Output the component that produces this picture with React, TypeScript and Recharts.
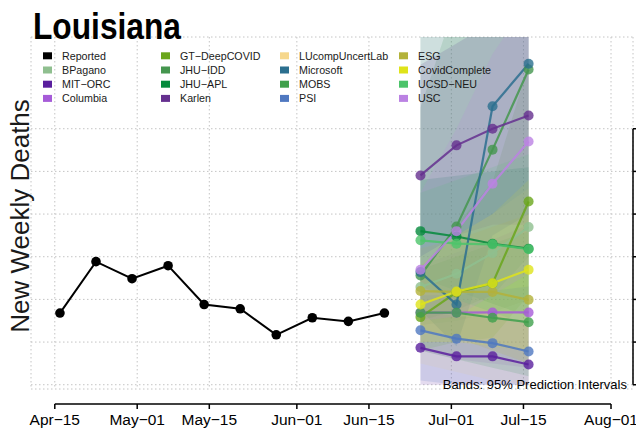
import React from 'react';
import { ComposedChart, Line, Area, XAxis, YAxis, CartesianGrid, ReferenceLine } from 'recharts';

const FONT = '"Liberation Sans", Arial, Helvetica, sans-serif';
const ORIGIN = '2021-04-15';
const dayOf = (s: string) => (Date.parse(s) - Date.parse(ORIGIN)) / 86400000;

// Reported weekly deaths
const reportedDates = ['2021-04-16', '2021-04-23', '2021-04-30', '2021-05-07', '2021-05-14', '2021-05-21', '2021-05-28', '2021-06-04', '2021-06-11', '2021-06-18'];
const reportedDeaths = [53.6, 77.7, 69.7, 75.8, 57.6, 55.6, 43.4, 51.4, 49.7, 53.6];

// Forecast targets
const forecastDates = ['2021-06-25', '2021-07-02', '2021-07-09', '2021-07-16'];

// Model medians
const bpagano = [65.8, 72.0, 81.7, 93.9];
const mitOrc = [37.3, 33.3, 33.3, 29.5];
const columbia = [53.8, 53.8, 53.9, 53.9];
const gtDeepCovid = [51.7, 63.3, 67.5, 105.9];
const jhuIdd = [71.2, 94.2, 130.2, 167.8];
const jhuApl = [92.0, 89.5, 86.1, 83.8];
const karlen = [118.1, 132.2, 140.0, 146.2];
const microsoft = [72.8, 57.6, 150.5, 170.5];
const mobs = [53.8, 53.8, 51.4, 49.3];
const psi = [45.5, 41.6, 39.5, 35.6];
const esg = [63.9, 63.5, 63.5, 59.8];
const covidComplete = [57.6, 63.7, 67.6, 73.9];
const ucsdNeu = [87.7, 86.1, 85.8, 83.5];
const usc = [73.9, 92.0, 114.2, 134.0];

// 95% prediction interval bounds
const bpaganoLo = [48, 50, 54, 60];
const bpaganoHi = [190, 210, 240, 270];
const mitOrcLo = [20, 20, 20, 20];
const mitOrcHi = [55, 52, 52, 50];
const columbiaLo = [36, 32, 30, 28];
const columbiaHi = [76, 82, 88, 95];
const gtDeepCovidLo = [36, 40, 42, 62];
const gtDeepCovidHi = [72, 95, 115, 170];
const jhuIddLo = [50, 55, 62, 80];
const jhuIddHi = [150, 200, 250, 300];
const jhuAplLo = [70, 64, 58, 52];
const jhuAplHi = [116, 118, 120, 122];
const karlenLo = [80, 90, 95, 95];
const karlenHi = [170, 180, 190, 195];
const lucompLo = [30, 26, 22, 20];
const lucompHi = [80, 90, 100, 112];
const microsoftLo = [55, 38, 90, 100];
const microsoftHi = [200, 230, 320, 360];
const mobsLo = [36, 32, 28, 24];
const mobsHi = [74, 80, 86, 92];
const psiLo = [22, 20, 20, 20];
const psiHi = [62, 62, 64, 66];
const esgLo = [46, 42, 36, 30];
const esgHi = [84, 88, 94, 100];
const covidCompleteLo = [40, 40, 38, 36];
const covidCompleteHi = [76, 90, 100, 116];
const ucsdNeuLo = [66, 60, 54, 48];
const ucsdNeuHi = [110, 116, 122, 128];
const uscLo = [50, 52, 62, 72];
const uscHi = [110, 140, 175, 200];

// Axis ticks
const xTickDates = ['2021-04-15', '2021-05-01', '2021-05-15', '2021-06-01', '2021-06-15', '2021-07-01', '2021-07-15', '2021-08-01'];
const xTickLabels = ['Apr\u221215', 'May\u221201', 'May\u221215', 'Jun\u221201', 'Jun\u221215', 'Jul\u221201', 'Jul\u221215', 'Aug\u221201'];
const yTicks = [20, 40, 60, 80, 100, 120, 140];

const X_DOMAIN: [number, number] = [-4.62, 112.27];
const Y_DOMAIN: [number, number] = [18, 183];
const X_AXIS_START = 0;
const X_AXIS_END = 108;
const X_AXIS_Y = 10.97;

type Model = { key: string; name: string; color: string; mid: number[] | null; lo: number[]; hi: number[] };

const models: Model[] = [
  { key: 'bpagano', name: 'BPagano', color: '#8fbf8f', mid: bpagano, lo: bpaganoLo, hi: bpaganoHi },
  { key: 'mitOrc', name: 'MIT\u2212ORC', color: '#5a1f9e', mid: mitOrc, lo: mitOrcLo, hi: mitOrcHi },
  { key: 'columbia', name: 'Columbia', color: '#a65bd8', mid: columbia, lo: columbiaLo, hi: columbiaHi },
  { key: 'gtDeepCovid', name: 'GT\u2212DeepCOVID', color: '#6aa61c', mid: gtDeepCovid, lo: gtDeepCovidLo, hi: gtDeepCovidHi },
  { key: 'jhuIdd', name: 'JHU\u2212IDD', color: '#45964f', mid: jhuIdd, lo: jhuIddLo, hi: jhuIddHi },
  { key: 'jhuApl', name: 'JHU\u2212APL', color: '#058a3c', mid: jhuApl, lo: jhuAplLo, hi: jhuAplHi },
  { key: 'karlen', name: 'Karlen', color: '#65308f', mid: karlen, lo: karlenLo, hi: karlenHi },
  { key: 'lucomp', name: 'LUcompUncertLab', color: '#f6d78c', mid: null, lo: lucompLo, hi: lucompHi },
  { key: 'microsoft', name: 'Microsoft', color: '#2b6f8f', mid: microsoft, lo: microsoftLo, hi: microsoftHi },
  { key: 'mobs', name: 'MOBS', color: '#40a04c', mid: mobs, lo: mobsLo, hi: mobsHi },
  { key: 'psi', name: 'PSI', color: '#4f78c0', mid: psi, lo: psiLo, hi: psiHi },
  { key: 'esg', name: 'ESG', color: '#b3b23a', mid: esg, lo: esgLo, hi: esgHi },
  { key: 'covidComplete', name: 'CovidComplete', color: '#dfe31a', mid: covidComplete, lo: covidCompleteLo, hi: covidCompleteHi },
  { key: 'ucsdNeu', name: 'UCSD\u2212NEU', color: '#4cc46a', mid: ucsdNeu, lo: ucsdNeuLo, hi: ucsdNeuHi },
  { key: 'usc', name: 'USC', color: '#bb82e3', mid: usc, lo: uscLo, hi: uscHi },
];

// Build the rows for the chart
const rows: any[] = [];
reportedDates.forEach((d, i) => rows.push({ t: dayOf(d), reported: reportedDeaths[i] }));
forecastDates.forEach((d, i) => {
  const r: any = { t: dayOf(d) };
  models.forEach((m) => {
    if (m.mid) r[m.key] = m.mid[i];
    r[m.key + '_band'] = [m.lo[i], m.hi[i]];
  });
  rows.push(r);
});

const xTicks = xTickDates.map(dayOf);

const XTick = (props: any) => {
  const { x, y, payload } = props;
  const i = xTicks.indexOf(payload.value);
  return (
    <g>
      <line x1={x} x2={x} y1={y + 15} y2={y + 20} stroke="#000" strokeWidth={1.5} />
      <text x={x} y={y + 35.5} textAnchor="middle" fontSize={15.5} fontFamily={FONT} fill="#000">
        {xTickLabels[i]}
      </text>
    </g>
  );
};

// right-hand axis: labels fall outside the cropped frame, only tick marks remain
const EmptyTick = () => <g />;

const legendColumns = [
  [['Reported', '#000000'], [models[0].name, models[0].color], [models[1].name, models[1].color], [models[2].name, models[2].color]],
  [[models[3].name, models[3].color], [models[4].name, models[4].color], [models[5].name, models[5].color], [models[6].name, models[6].color]],
  [[models[7].name, models[7].color], [models[8].name, models[8].color], [models[9].name, models[9].color], [models[10].name, models[10].color]],
  [[models[11].name, models[11].color], [models[12].name, models[12].color], [models[13].name, models[13].color], [models[14].name, models[14].color]],
];
const legendColX = [43, 161, 280, 399];

export default function App() {
  return (
    <div style={{ position: 'absolute', left: 0, top: 0, width: 636, height: 437, background: '#fff', overflow: 'hidden' }}>
      <ComposedChart width={636} height={437} data={rows} margin={{ top: 37, right: 0, bottom: 18, left: 31 }}>
        <CartesianGrid stroke="#c4c4c4" strokeDasharray="1.5 2.5" strokeWidth={1} />
        <XAxis
          type="number"
          dataKey="t"
          domain={X_DOMAIN}
          allowDataOverflow
          ticks={xTicks}
          interval={0}
          axisLine={false}
          tickLine={false}
          tickSize={0}
          tickMargin={0}
          height={30}
          tick={<XTick />}
        />
        <YAxis
          orientation="right"
          domain={Y_DOMAIN}
          allowDataOverflow
          ticks={yTicks}
          interval={0}
          width={3}
          axisLine={false}
          tickSize={5}
          tickLine={{ stroke: '#000', strokeWidth: 1.5 }}
          tick={<EmptyTick />}
        />
        {models.map((m) => (
          <Area
            key={m.key + '_band'}
            type="linear"
            dataKey={m.key + '_band'}
            stroke="none"
            fill={m.color}
            fillOpacity={0.16}
            isAnimationActive={false}
            dot={false}
            activeDot={false}
          />
        ))}
        <Line
          type="linear"
          dataKey="reported"
          stroke="#000"
          strokeWidth={2}
          dot={{ r: 4.8, fill: '#000', stroke: 'none' }}
          activeDot={false}
          isAnimationActive={false}
        />
        {models
          .filter((m) => m.mid)
          .map((m) => (
            <Line
              key={m.key}
              type="linear"
              dataKey={m.key}
              stroke={m.color}
              strokeOpacity={0.85}
              strokeWidth={2.2}
              dot={{ r: 5, fill: m.color, fillOpacity: 0.8, stroke: 'none' }}
              activeDot={false}
              isAnimationActive={false}
            />
          ))}
        <ReferenceLine
          segment={[{ x: X_AXIS_START, y: X_AXIS_Y }, { x: X_AXIS_END, y: X_AXIS_Y }]}
          stroke="#000"
          strokeWidth={1.5}
          ifOverflow="visible"
        />
        <ReferenceLine
          segment={[{ x: X_DOMAIN[1], y: yTicks[0] }, { x: X_DOMAIN[1], y: yTicks[yTicks.length - 1] }]}
          stroke="#000"
          strokeWidth={1.5}
          ifOverflow="visible"
        />
      </ComposedChart>
      <svg width={636} height={437} style={{ position: 'absolute', left: 0, top: 0, pointerEvents: 'none' }}>
        <text x={33} y={38.5} fontSize={36} fontWeight="bold" fontFamily={FONT} fill="#000" textLength={148} lengthAdjust="spacingAndGlyphs">
          Louisiana
        </text>
        <text transform="translate(28.5,216) rotate(-90)" textAnchor="middle" fontSize={26} fontFamily={FONT} fill="#1a1a1a">
          New Weekly Deaths
        </text>
        {legendColumns.map((col, ci) =>
          col.map(([name, color], ri) => (
            <g key={name}>
              <rect x={legendColX[ci]} y={52.3 + ri * 14.2} width={9} height={7} fill={color} />
              <text x={legendColX[ci] + 19} y={59.6 + ri * 14.2} fontSize={10.7} fontFamily={FONT} fill="#1a1a1a">
                {name}
              </text>
            </g>
          ))
        )}
        <text x={627} y={388.5} textAnchor="end" fontSize={13} fontFamily={FONT} fill="#000">
          Bands: 95% Prediction Intervals
        </text>
      </svg>
    </div>
  );
}
